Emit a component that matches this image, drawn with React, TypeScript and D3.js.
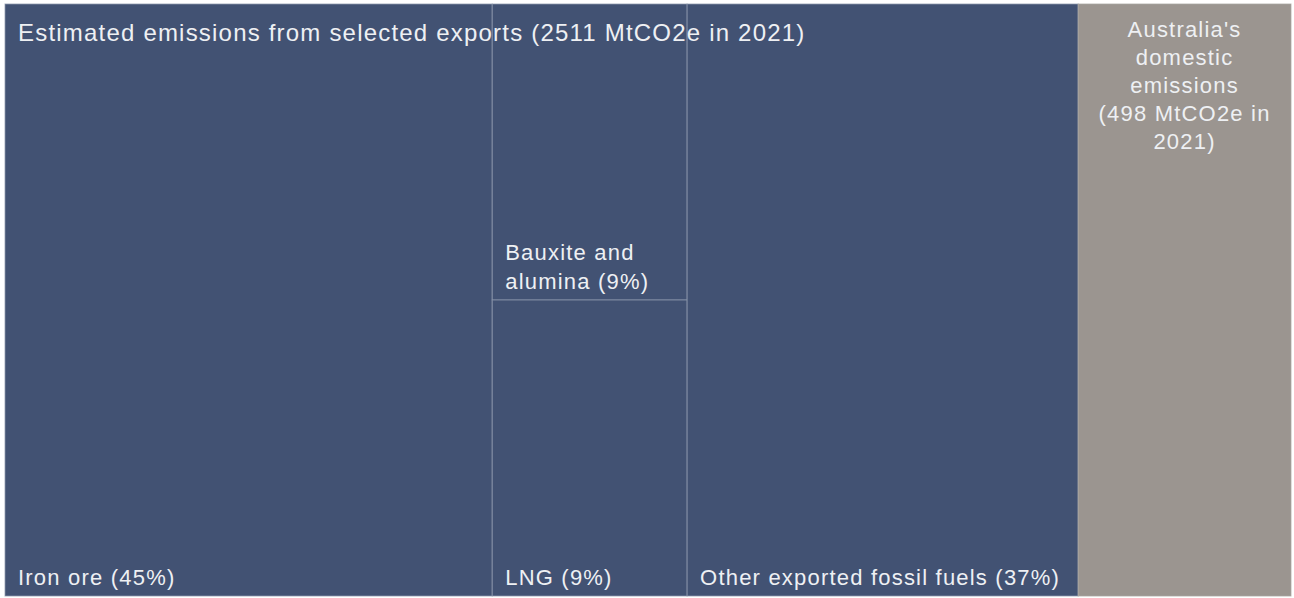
import React from "react";
import * as d3 from "d3";

const W = 1294;
const H = 598;

const totalExports = 2511;
const totalDomestic = 498;
const exportNames = ["Iron ore", "Bauxite and alumina", "LNG", "Other exported fossil fuels"];
const exportShares = [45, 9, 9, 37];
const exportValues = [1140, 228, 228, 915];
const exportGroups = ["iron", "middle", "middle", "other"];
const titleText = "Estimated emissions from selected exports (2511 MtCO2e in 2021)";
const domesticLines = ["Australia's", "domestic", "emissions", "(498 MtCO2e in", "2021)"];

const BLUE = "#425273";
const GREY = "#9b9590";
const LINE = "#8d99ad";
const TEXT = "#eef0f3";
const FONT = "'Liberation Sans', Arial, Helvetica, sans-serif";

type Node = { name: string; value?: number; children?: Node[]; kind?: string };

function buildData(): Node {
  const groups: Node[] = [];
  const seen: Record<string, Node> = {};
  exportNames.forEach((n, i) => {
    const g = exportGroups[i];
    const v = exportValues[i];
    if (g === "middle") {
      if (!seen[g]) {
        seen[g] = { name: g, children: [] };
        groups.push(seen[g]);
      }
      seen[g].children!.push({ name: n, value: v, kind: "export" });
    } else {
      groups.push({ name: g, children: [{ name: n, value: v, kind: "export" }] });
    }
  });
  return {
    name: "root",
    children: [
      { name: "exports", children: groups },
      { name: "Domestic", value: totalDomestic, kind: "domestic" },
    ],
  };
}

export default function App() {
  const x0 = 5, y0 = 4, x1 = 1291, y1 = 596;
  const root = d3
    .hierarchy<Node>(buildData())
    .sum((d) => d.value || 0);
  const tile = (node: any, a: number, b: number, c: number, d: number) => {
    if (node.depth <= 1) d3.treemapDice(node, a, b, c, d);
    else d3.treemapSlice(node, a, b, c, d);
  };
  d3.treemap<Node>().tile(tile as any).size([x1 - x0, y1 - y0]).round(false)(root);
  const leaves = root.leaves() as any[];
  const exportsNode = (root.children as any[])[0];

  return (
    <svg width={W} height={H} style={{ display: "block", position: "absolute", left: 0, top: 0 }}>
      <rect x={0} y={0} width={W} height={H} fill="#ffffff" />
      <g transform={`translate(${x0},${y0})`}>
        {leaves.map((l, i) => (
          <rect
            key={i}
            x={l.x0}
            y={l.y0}
            width={l.x1 - l.x0}
            height={l.y1 - l.y0}
            fill={l.data.kind === "domestic" ? GREY : BLUE}
            stroke={l.data.kind === "domestic" ? "#aaa5a0" : LINE}
            strokeOpacity={0.75}
            strokeWidth={1}
          />
        ))}
        <text x={exportsNode.x0 + 13} y={exportsNode.y0 + 37} fill={TEXT} fontFamily={FONT} fontSize={24} letterSpacing={1.2}>
          {titleText}
        </text>
        {leaves.map((l, i) => {
          if (l.data.kind === "domestic") {
            const cx = (l.x0 + l.x1) / 2;
            return (
              <text key={"t" + i} x={cx} y={l.y0 + 32} fill={TEXT} fontFamily={FONT} fontSize={22} letterSpacing={1.2} textAnchor="middle">
                {domesticLines.map((s, j) => (
                  <tspan key={j} x={cx} y={l.y0 + 33 + j * 28}>
                    {s}
                  </tspan>
                ))}
              </text>
            );
          }
          const idx = exportNames.indexOf(l.data.name);
          const label = `${l.data.name} (${exportShares[idx]}%)`;
          const words = l.data.name === "Bauxite and alumina" ? ["Bauxite and", `alumina (${exportShares[idx]}%)`] : [label];
          return (
            <text key={"t" + i} fill={TEXT} fontFamily={FONT} fontSize={22} letterSpacing={1.2}>
              {words.map((s, j) => (
                <tspan key={j} x={l.x0 + 13} y={l.y1 - 11 - (words.length - 1 - j) * 29}>
                  {s}
                </tspan>
              ))}
            </text>
          );
        })}
      </g>
    </svg>
  );
}
